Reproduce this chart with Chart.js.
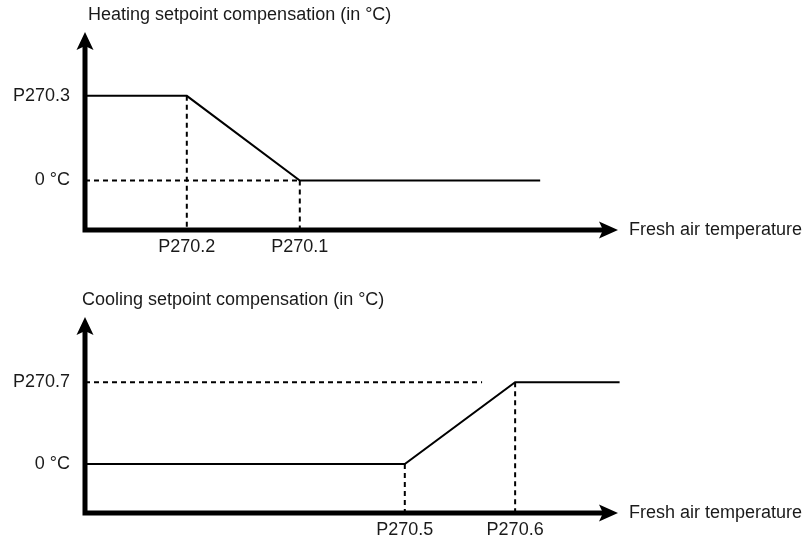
<!DOCTYPE html>
<html>
<head>
<meta charset="utf-8">
<script src="https://cdn.jsdelivr.net/npm/chart.js@4.4.1/dist/chart.umd.min.js"></script>
<style>
  html, body { margin: 0; padding: 0; background: #fff; }
  #wrap { position: relative; width: 808px; height: 540px; }
  canvas { position: absolute; left: 0; }
  #heat { top: 0; }
  #cool { top: 270px; }
</style>
</head>
<body>
<div id="wrap">
  <canvas id="heat" width="808" height="270"></canvas>
  <canvas id="cool" width="808" height="270"></canvas>
</div>
<script>
// heating curve (x: fresh air temperature, arbitrary 0..100; y: compensation)
const heatX = [0, 19.1, 40.3, 85.4];
const heatY = [1.71, 1.71, 0, 0];
const heatTickX = [19.1, 40.3];
const heatTickXLabels = ['P270.2', 'P270.1'];
const heatTickY = [0, 1.71];
const heatTickYLabels = ['0 °C', 'P270.3'];

// cooling curve
const coolX = [0, 60.0, 80.7, 100.3];
const coolY = [0, 0, 1.67, 1.67];
const coolTickX = [60.0, 80.7];
const coolTickXLabels = ['P270.5', 'P270.6'];
const coolTickY = [0, 1.67];
const coolTickYLabels = ['0 °C', 'P270.7'];
const coolGuideEndX = 74.5;

const yMin = -1, yMax = 3;
const FONT = { family: '"Liberation Sans", Arial, sans-serif', size: 18 };
const INK = '#1a1a1a';

const pts = (xs, ys) => xs.map((x, i) => ({ x: x, y: ys[i] }));

const solid = (data) => ({
  data, borderColor: '#000', borderWidth: 2, pointRadius: 0, tension: 0, clip: false, order: 0
});
const dashed = (data) => ({
  data, borderColor: '#000', borderWidth: 2, borderDash: [5, 4], pointRadius: 0, tension: 0, clip: false, order: 1
});

// thick axes with arrow heads + captions
const arrowAxes = {
  id: 'arrowAxes',
  afterDatasetsDraw(chart, args, opts) {
    const { ctx, chartArea: a } = chart;
    ctx.save();
    ctx.strokeStyle = '#000';
    ctx.fillStyle = '#000';
    ctx.lineWidth = 5;
    ctx.beginPath();
    ctx.moveTo(a.left, a.top + 12);
    ctx.lineTo(a.left, a.bottom);
    ctx.moveTo(a.left - 2.5, a.bottom);
    ctx.lineTo(a.right - 12, a.bottom);
    ctx.stroke();

    // up arrow
    ctx.beginPath();
    ctx.moveTo(a.left, a.top);
    ctx.lineTo(a.left - 8.5, a.top + 18);
    ctx.lineTo(a.left, a.top + 14);
    ctx.lineTo(a.left + 8.5, a.top + 18);
    ctx.closePath();
    ctx.fill();
    // right arrow
    ctx.beginPath();
    ctx.moveTo(a.right, a.bottom);
    ctx.lineTo(a.right - 19, a.bottom - 8.5);
    ctx.lineTo(a.right - 15, a.bottom);
    ctx.lineTo(a.right - 19, a.bottom + 8.5);
    ctx.closePath();
    ctx.fill();

    ctx.fillStyle = INK;
    ctx.font = FONT.size + 'px ' + FONT.family;
    ctx.textBaseline = 'middle';
    ctx.textAlign = 'left';
    ctx.fillText(opts.title, opts.titleX, a.top - 17);
    ctx.fillText('Fresh air temperature', a.right + 11, a.bottom);
    ctx.restore();
  }
};

function makeChart(id, cfg) {
  return new Chart(document.getElementById(id), {
    type: 'line',
    data: { datasets: cfg.datasets },
    options: {
      responsive: false,
      devicePixelRatio: 1,
      animation: false,
      events: [],
      layout: { padding: { top: cfg.padTop, right: 190, left: 0, bottom: 0 } },
      plugins: {
        legend: { display: false },
        tooltip: { enabled: false },
        arrowAxes: { title: cfg.title, titleX: cfg.titleX }
      },
      scales: {
        x: {
          type: 'linear', min: 0, max: 100,
          border: { display: false },
          grid: { display: false, drawTicks: false },
          afterBuildTicks: s => { s.ticks = cfg.tickX.map(v => ({ value: v })); },
          afterFit: s => { s.height = cfg.xHeight; },
          ticks: {
            autoSkip: false, maxRotation: 0, padding: 6, color: INK, font: FONT,
            callback: (v, i) => cfg.tickXLabels[i]
          }
        },
        y: {
          type: 'linear', min: yMin, max: yMax,
          border: { display: false },
          grid: { display: false, drawTicks: false },
          afterBuildTicks: s => { s.ticks = cfg.tickY.map(v => ({ value: v })); },
          afterFit: s => { s.width = 85; },
          ticks: {
            autoSkip: false, padding: 15, color: INK, font: FONT,
            callback: (v, i) => cfg.tickYLabels[i]
          }
        }
      }
    },
    plugins: [arrowAxes]
  });
}

makeChart('heat', {
  title: 'Heating setpoint compensation (in °C)', titleX: 88,
  padTop: 32, xHeight: 40,
  tickX: heatTickX, tickXLabels: heatTickXLabels,
  tickY: heatTickY, tickYLabels: heatTickYLabels,
  datasets: [
    solid(pts(heatX, heatY)),
    dashed(pts([heatX[1], heatX[1]], [heatY[1], yMin])),
    dashed(pts([heatX[2], heatX[2]], [heatY[2], yMin])),
    dashed(pts([0, heatX[2]], [0, 0]))
  ]
});

makeChart('cool', {
  title: 'Cooling setpoint compensation (in °C)', titleX: 82,
  padTop: 47, xHeight: 27,
  tickX: coolTickX, tickXLabels: coolTickXLabels,
  tickY: coolTickY, tickYLabels: coolTickYLabels,
  datasets: [
    solid(pts(coolX, coolY)),
    dashed(pts([coolX[1], coolX[1]], [coolY[1], yMin])),
    dashed(pts([coolX[2], coolX[2]], [coolY[2], yMin])),
    dashed(pts([0, coolGuideEndX], [coolY[2], coolY[2]]))
  ]
});
</script>
</body>
</html>
